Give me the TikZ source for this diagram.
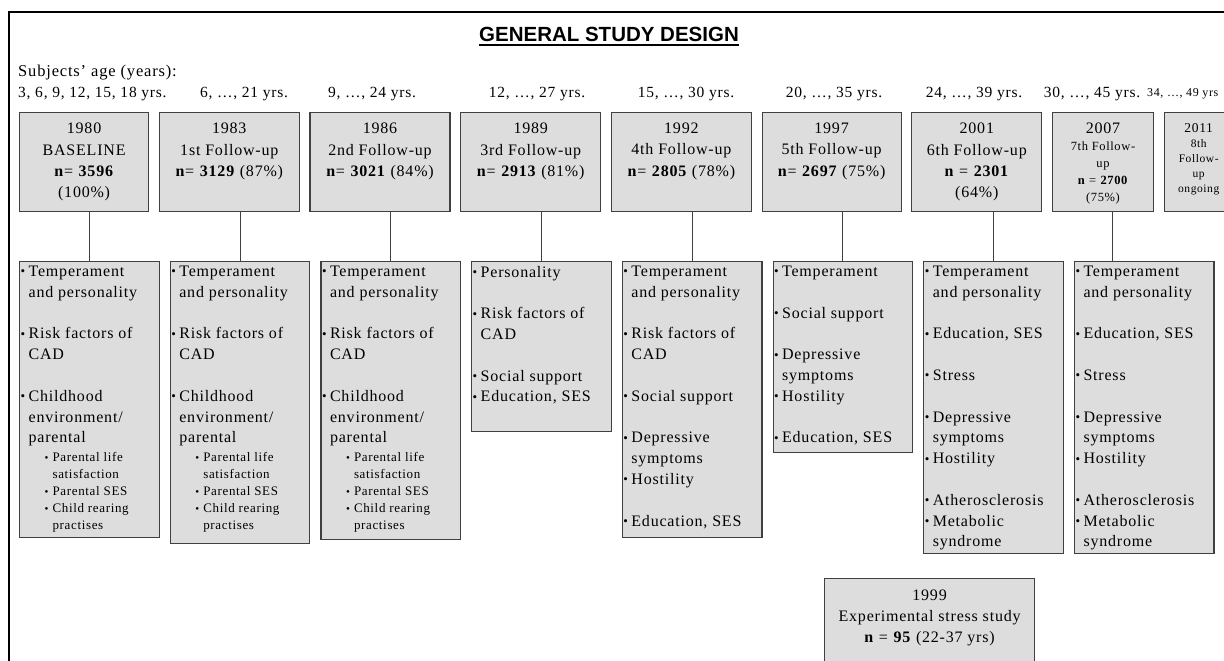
\documentclass[tikz,border=0pt]{standalone}
\usepackage{fontspec}
\setmainfont{Liberation Serif}[LetterSpace=5]
\newfontfamily\titlefont{Liberation Sans}
\usetikzlibrary{positioning}
\definecolor{boxgray}{RGB}{221,221,221}
\definecolor{edgegray}{RGB}{64,64,64}

\newcommand{\boxcontent}[3]{\begin{minipage}[t][#2][t]{#1}#3\end{minipage}}
\newcommand*{\itm}{\makebox[8pt][l]{\raisebox{0.5pt}{\fontsize{13}{13}\selectfont\textbullet}}}
\newcommand*{\ind}{\hspace*{8pt}}
\newcommand*{\sitm}{\hspace*{24pt}\makebox[8pt][l]{\raisebox{0.3pt}{\fontsize{11}{11}\selectfont\textbullet}}}
\newcommand*{\sind}{\hspace*{32pt}}
\newcommand*{\gap}{\vspace{20.8pt}}
\newcommand*{\mainsize}{\fontsize{16}{20.8}\selectfont}
\newcommand*{\subsize}{\fontsize{13}{17}\selectfont}
\newcommand*{\yearsize}{\fontsize{16}{21.3}\selectfont}

\begin{document}
\begin{tikzpicture}[x=1pt, y=1pt,
  yearbox/.style={draw=edgegray, fill=boxgray, line width=1.2pt, inner sep=0pt, anchor=north west},
  listbox/.style={draw=edgegray, fill=boxgray, line width=1.2pt, inner xsep=1pt, inner ysep=0pt, anchor=north west},
  agelabel/.style={inner sep=0pt, anchor=base, font=\fontsize{15.5}{18}\selectfont},
  link/.style={draw=edgegray, line width=1pt}]
\useasboundingbox (0,0) rectangle (1224,-661);

% frame
\draw[line width=1.3pt] (1230,-12) -- (9,-12) -- (9,-670);

% title
\node (T) [inner sep=0pt, anchor=base, font=\titlefont\bfseries\fontsize{20.5}{24}\selectfont] at (609,-42) {GENERAL STUDY DESIGN};
\draw[line width=1.5pt] ([yshift=-3pt]T.base west) -- ([yshift=-3pt]T.base east);

% ages
\node (S) [inner sep=0pt, anchor=base west, font=\fontsize{16.5}{20}\selectfont] at (18,-77) {Subjects' age (years):};
\node (A1) [agelabel, anchor=base west] at (18,-97) {3, 6, 9, 12, 15, 18 yrs.};
\node (A2) [agelabel] at (244,-97) {6, \ldots, 21 yrs.};
\node (A3) [agelabel] at (372,-97) {9, \ldots, 24 yrs.};
\node (A4) [agelabel] at (537,-97) {12, \ldots, 27 yrs.};
\node (A5) [agelabel] at (686,-97) {15, \ldots, 30 yrs.};
\node (A6) [agelabel] at (834,-97) {20, \ldots, 35 yrs.};
\node (A7) [agelabel] at (974,-97) {24, \ldots, 39 yrs.};
\node (A8) [agelabel] at (1092,-97) {30, \ldots, 45 yrs.};
\node (A9) [agelabel, anchor=base west, font=\fontsize{12}{14}\selectfont] at (1147,-96) {34, \ldots, 49 yrs};

% follow-up boxes
\node (B1) [yearbox] at (19,-112) {\boxcontent{129pt}{99pt}{\centering\yearsize\vspace*{10.5pt}1980\par BASELINE\par \textbf{n}= \textbf{3596}\par (100\%)\par}};
\node (B2) [yearbox, right=9.5pt of B1] {\boxcontent{140pt}{99pt}{\centering\yearsize\vspace*{10.5pt}1983\par 1st Follow-up\par \textbf{n}= \textbf{3129} (87\%)\par}};
\node (B3) [yearbox, right=9.5pt of B2] {\boxcontent{140pt}{99pt}{\centering\yearsize\vspace*{10.5pt}1986\par 2nd Follow-up\par \textbf{n}= \textbf{3021} (84\%)\par}};
\node (B4) [yearbox, right=9.5pt of B3] {\boxcontent{140pt}{99pt}{\centering\yearsize\vspace*{10.5pt}1989\par 3rd Follow-up\par \textbf{n}= \textbf{2913} (81\%)\par}};
\node (B5) [yearbox, right=9.5pt of B4] {\boxcontent{140pt}{99pt}{\centering\yearsize\vspace*{10.5pt}1992\par 4th Follow-up\par \textbf{n}= \textbf{2805} (78\%)\par}};
\node (B6) [yearbox, right=9.5pt of B5] {\boxcontent{139pt}{99pt}{\centering\yearsize\vspace*{10.5pt}1997\par 5th Follow-up\par \textbf{n}= \textbf{2697} (75\%)\par}};
\node (B7) [yearbox, right=9.5pt of B6] {\boxcontent{130pt}{99pt}{\centering\yearsize\vspace*{10.5pt}2001\par 6th Follow-up\par \textbf{n} = \textbf{2301}\par (64\%)\par}};
\node (B8) [yearbox, right=9.5pt of B7] {\boxcontent{101pt}{99pt}{\centering\yearsize\vspace*{10.5pt}2007\par
  \fontsize{12.5}{17}\selectfont 7th Follow-\par up\par \textbf{n} = \textbf{2700}\par (75\%)\par}};
\node (B9) [yearbox, right=9.5pt of B8] {\boxcontent{69pt}{99pt}{\centering\fontsize{13.5}{17}\selectfont\vspace*{10.5pt}2011\par
  \fontsize{11.5}{15}\selectfont 8th\par Follow-\par up\par ongoing\par}};

% measures
\node (M1) [listbox] at (19,-261) {\boxcontent{137.5pt}{276pt}{\mainsize\vspace*{4.4pt}
  \itm Temperament\par \ind and personality\par \gap
  \itm Risk factors of\par \ind CAD\par \gap
  \itm Childhood\par \ind environment/\par \ind parental\par
  \subsize\vspace{2pt}\sitm Parental life\par \sind satisfaction\par \sitm Parental SES\par \sitm Child rearing\par \sind practises\par}};
\node (M2) [listbox, right=10pt of M1.north east, anchor=north west] {\boxcontent{137.5pt}{282pt}{\mainsize\vspace*{4.4pt}
  \itm Temperament\par \ind and personality\par \gap
  \itm Risk factors of\par \ind CAD\par \gap
  \itm Childhood\par \ind environment/\par \ind parental\par
  \subsize\vspace{2pt}\sitm Parental life\par \sind satisfaction\par \sitm Parental SES\par \sitm Child rearing\par \sind practises\par}};
\node (M3) [listbox, right=10pt of M2.north east, anchor=north west] {\boxcontent{137.5pt}{278pt}{\mainsize\vspace*{4.4pt}
  \itm Temperament\par \ind and personality\par \gap
  \itm Risk factors of\par \ind CAD\par \gap
  \itm Childhood\par \ind environment/\par \ind parental\par
  \subsize\vspace{2pt}\sitm Parental life\par \sind satisfaction\par \sitm Parental SES\par \sitm Child rearing\par \sind practises\par}};
\node (M4) [listbox, right=10pt of M3.north east, anchor=north west] {\boxcontent{137.5pt}{170pt}{\mainsize\vspace*{4.4pt}
  \itm Personality\par \gap
  \itm Risk factors of\par \ind CAD\par \gap
  \itm Social support\par \itm Education, SES\par}};
\node (M5) [listbox, right=10pt of M4.north east, anchor=north west] {\boxcontent{137.5pt}{276pt}{\mainsize\vspace*{4.4pt}
  \itm Temperament\par \ind and personality\par \gap
  \itm Risk factors of\par \ind CAD\par \gap
  \itm Social support\par \gap
  \itm Depressive\par \ind symptoms\par \itm Hostility\par \gap
  \itm Education, SES\par}};
\node (M6) [listbox, right=10pt of M5.north east, anchor=north west] {\boxcontent{137.5pt}{191pt}{\mainsize\vspace*{4.4pt}
  \itm Temperament\par \gap
  \itm Social support\par \gap
  \itm Depressive\par \ind symptoms\par \itm Hostility\par \gap
  \itm Education, SES\par}};
\node (M7) [listbox, right=10pt of M6.north east, anchor=north west] {\boxcontent{137.5pt}{292pt}{\mainsize\vspace*{4.4pt}
  \itm Temperament\par \ind and personality\par \gap
  \itm Education, SES\par \gap
  \itm Stress\par \gap
  \itm Depressive\par \ind symptoms\par \itm Hostility\par \gap
  \itm Atherosclerosis\par \itm Metabolic\par \ind syndrome\par}};
\node (M8) [listbox, right=10pt of M7.north east, anchor=north west] {\boxcontent{137.5pt}{292pt}{\mainsize\vspace*{4.4pt}
  \itm Temperament\par \ind and personality\par \gap
  \itm Education, SES\par \gap
  \itm Stress\par \gap
  \itm Depressive\par \ind symptoms\par \itm Hostility\par \gap
  \itm Atherosclerosis\par \itm Metabolic\par \ind syndrome\par}};

% stress study
\node (X) [yearbox] at (824,-578) {\boxcontent{210pt}{100pt}{\centering\yearsize\vspace*{11pt}1999\par Experimental stress study\par \textbf{n} = \textbf{95} (22-37 yrs)\par}};

% links
\draw[link] (M1.north) -- (M1.north |- B1.south);
\draw[link] (M2.north) -- (M2.north |- B2.south);
\draw[link] (M3.north) -- (M3.north |- B3.south);
\draw[link] (M4.north) -- (M4.north |- B4.south);
\draw[link] (M5.north) -- (M5.north |- B5.south);
\draw[link] (M6.north) -- (M6.north |- B6.south);
\draw[link] (M7.north) -- (M7.north |- B7.south);
\draw[link] ([xshift=9.5pt]B8.south) -- ([xshift=9.5pt]B8.south |- M8.north);
\coordinate (C9) at (B9.south east |- M8.north);
\draw[link] (B9.south east) -- (C9);

\end{tikzpicture}
\end{document}
